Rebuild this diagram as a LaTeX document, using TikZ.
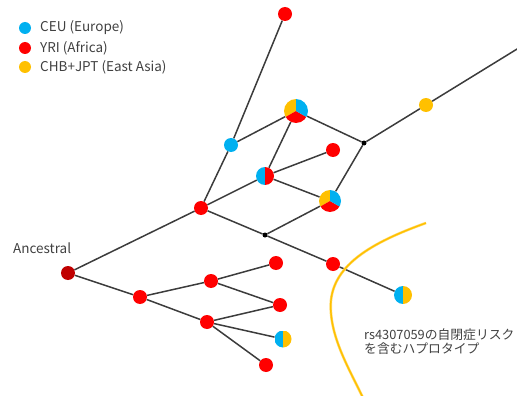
\documentclass[tikz,border=0pt]{standalone}
\usepackage{fontspec}
\setmainfont{Noto Sans CJK JP}
\definecolor{cafr}{HTML}{FF0000}
\definecolor{ceur}{HTML}{00B0F0}
\definecolor{ceas}{HTML}{FFC000}
\definecolor{canc}{HTML}{C00000}
\definecolor{cedge}{HTML}{3C3C3C}
\definecolor{ctext}{HTML}{404040}
\tikzset{
  hap/.style={circle, inner sep=0pt, minimum size=14pt, fill=cafr},
  anc/.style={hap, fill=canc},
  junc/.style={circle, inner sep=0pt, minimum size=5pt, fill=black},
  halfpie/.style n args={3}{circle, inner sep=0pt, minimum size=#1, path picture={
      \fill[#2] (path picture bounding box.south west) rectangle (path picture bounding box.north);
      \fill[#3] (path picture bounding box.south) rectangle (path picture bounding box.north east);}},
  tripie/.style={circle, inner sep=0pt, minimum size=#1, path picture={
      \pgfmathsetmacro{\rr}{#1/2+1}
      \fill[ceas] (path picture bounding box.center) -- ++(90:\rr pt) arc[start angle=90, end angle=210, radius=\rr pt] -- cycle;
      \fill[cafr] (path picture bounding box.center) -- ++(210:\rr pt) arc[start angle=210, end angle=330, radius=\rr pt] -- cycle;
      \fill[ceur] (path picture bounding box.center) -- ++(330:\rr pt) arc[start angle=330, end angle=450, radius=\rr pt] -- cycle;}},
  edge/.style={draw=cedge, line width=1.5pt},
  label/.style={text=ctext, font=\fontsize{13.5}{15}\selectfont, inner sep=0pt},
  jplabel/.style={text=ctext, font=\fontsize{12.8}{14}\selectfont, inner sep=0pt},
  legdot/.style={circle, inner sep=0pt, minimum size=12pt}
}
\begin{document}
\begin{tikzpicture}[x=1pt, y=-1pt]
\useasboundingbox (0,0) rectangle (517,396);

% legend
\node[legdot, fill=ceur] (l1) at (25,28) {};
\node[legdot, fill=cafr] (l2) at (25,48) {};
\node[legdot, fill=ceas] (l3) at (25,67) {};
\node[label, anchor=west] (t1) at (40,28) {CEU (Europe)};
\node[label, anchor=west] (t2) at (40,48) {YRI (Africa)};
\node[label, anchor=west] (t3) at (40,67) {CHB+JPT (East Asia)};

% haplotype network nodes
\node[anc] (a) at (68,273) {};
\node[label, anchor=west] (at) at (13,248) {Ancestral};
\node[hap] (r1) at (201,208) {};
\node[hap] (r2) at (140,297) {};
\node[hap] (r3) at (211,281) {};
\node[hap] (r4) at (276,263) {};
\node[hap] (r5) at (280,305) {};
\node[hap] (r6) at (207,322) {};
\node[halfpie={17pt}{ceur}{ceas}] (by1) at (283,339) {};
\node[hap] (r7) at (266,365) {};
\node[hap, fill=ceur] (b1) at (231,145) {};
\node[hap] (top) at (285,14) {};
\node[tripie=24pt] (p1) at (296,111) {};
\node[hap] (r8) at (333,150) {};
\node[halfpie={18pt}{ceur}{cafr}] (br) at (265,176) {};
\node[tripie=22pt] (p2) at (330,201) {};
\node[junc] (j1) at (364,143) {};
\node[hap, fill=ceas] (y1) at (426,105) {};
\coordinate (out) at (522,46);
\node[junc] (j2) at (265,235) {};
\node[hap] (r9) at (333,264) {};
\node[halfpie={18pt}{ceur}{ceas}] (by2) at (403,295) {};

% connectors
\begin{scope}[every path/.style={edge}]
\draw (a) -- (r1);
\draw (a) -- (r2);
\draw (r2) -- (r3);
\draw (r3) -- (r4);
\draw (r3) -- (r5);
\draw (r2) -- (r6);
\draw (r6) -- (r5);
\draw (r6) -- (by1);
\draw (r6) -- (r7);
\draw (r1) -- (b1);
\draw (b1) -- (top);
\draw (b1) -- (p1);
\draw (r1) -- (br);
\draw (r1) -- (j2);
\draw (br) -- (p1);
\draw (br) -- (r8);
\draw (br) -- (p2);
\draw (p1) -- (j1);
\draw (j1) -- (p2);
\draw (j1) -- (y1);
\draw (y1) -- (out);
\draw (j2) -- (p2);
\draw (j2) -- (r9);
\draw (r9) -- (by2);
\end{scope}

% boundary of the risk haplotypes
\draw[ceas!60, line width=2.6pt] (426,223) .. controls (370,243) and (335,265) .. (331,300)
  .. controls (328,335) and (350,370) .. (364,400);
\draw[ceas, line width=1.4pt] (426,223) .. controls (370,243) and (335,265) .. (331,300)
  .. controls (328,335) and (350,370) .. (364,400);

\node[jplabel, anchor=west, align=left] (risk1) at (364,335) {rs4307059の自閉症リスク};
\node[jplabel, anchor=west, align=left] (risk2) at (364,349) {を含むハプロタイプ};
\end{tikzpicture}
\end{document}
